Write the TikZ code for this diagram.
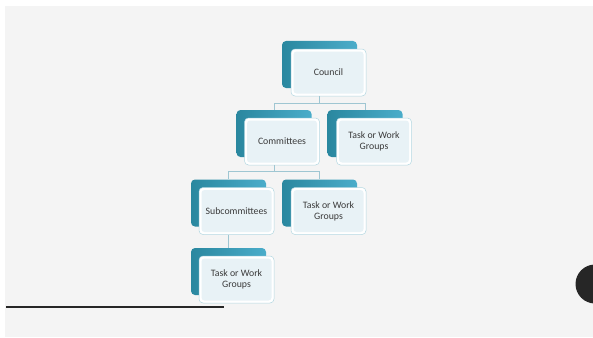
\documentclass[tikz,border=0pt]{standalone}
\usepackage{fontspec}
\setmainfont{Carlito}
\usetikzlibrary{calc,positioning}
\definecolor{pagegray}{HTML}{F4F4F4}
\definecolor{tealdark}{HTML}{2A879F}
\definecolor{teallight}{HTML}{4BADCA}
\definecolor{framecol}{HTML}{B3D7E1}
\definecolor{frontfill}{HTML}{E8F2F6}
\definecolor{linkcol}{HTML}{9FC6D2}
\definecolor{inkgray}{HTML}{3A3A3A}
\definecolor{darkdot}{HTML}{262626}
\tikzset{
	backbox/.style={minimum width=75pt, minimum height=47pt, rounded corners=4pt, left color=tealdark, right color=teallight, inner sep=0pt},
	frontbox/.style={minimum width=75pt, minimum height=47pt, rounded corners=4pt, fill=white, draw=framecol, line width=0.5pt, align=center, text=inkgray, font=\fontsize{9.8}{11}\selectfont,
		path picture={\fill[frontfill, rounded corners=3pt] ([shift={(2.5pt,2.5pt)}]path picture bounding box.south west) rectangle ([shift={(-2.5pt,-2.5pt)}]path picture bounding box.north east);}},
	connector/.style={draw=linkcol, line width=0.7pt}
}
\begin{document}
\begin{tikzpicture}[x=1pt, y=-1pt]
		%%%%% START %%%%%
		\useasboundingbox (0, 0) rectangle (593, 337);
		\clip (0, 0) rectangle (593, 337);
		\fill[pagegray] (5, 6) rectangle (593, 337);
		
		% back boxes
		\node[backbox] (councilB) at (319.5, 64.5) {};
		\node[backbox] (committeesB) at (274, 133.5) {};
		\node[backbox] (taskAB) at (365, 133.5) {};
		\node[backbox] (subcommB) at (228.5, 203) {};
		\node[backbox] (taskBB) at (319.5, 203) {};
		\node[backbox] (taskCB) at (228.5, 271.5) {};
		
		% front boxes
		\node[frontbox] (council) at ($(councilB)+(9, 8)$) {Council};
		\node[frontbox] (committees) at ($(committeesB)+(8, 8)$) {Committees};
		\node[frontbox] (taskA) at ($(taskAB)+(9, 8)$) {Task or Work\\Groups};
		\node[frontbox] (subcomm) at ($(subcommB)+(8, 8)$) {Subcommittees};
		\node[frontbox] (taskB) at ($(taskBB)+(9, 8)$) {Task or Work\\Groups};
		\node[frontbox] (taskC) at ($(taskCB)+(8, 8)$) {Task or Work\\Groups};
		
		% connectors
		\coordinate (fork1) at ($(councilB.center |- council.south)+(0, 7)$);
		\coordinate (fork2) at ($(committeesB.center |- committees.south)+(0, 6)$);
		\draw[connector] (councilB.center |- council.south) -- (fork1);
		\draw[connector] (fork1) -| (committeesB.north);
		\draw[connector] (fork1) -| (taskAB.north);
		\draw[connector] (committeesB.center |- committees.south) -- (fork2);
		\draw[connector] (fork2) -| (subcommB.north);
		\draw[connector] (fork2) -| (taskBB.north);
		\draw[connector] (subcommB.center |- subcomm.south) -- (taskCB.north);
		
		% rule and dot
		\draw[line width=1.5pt, color=darkdot] (6, 307) -- (224, 307);
		\fill[darkdot] (595, 284) circle (19.5);
		%%%%% END %%%%%
	\end{tikzpicture}
\end{document}
